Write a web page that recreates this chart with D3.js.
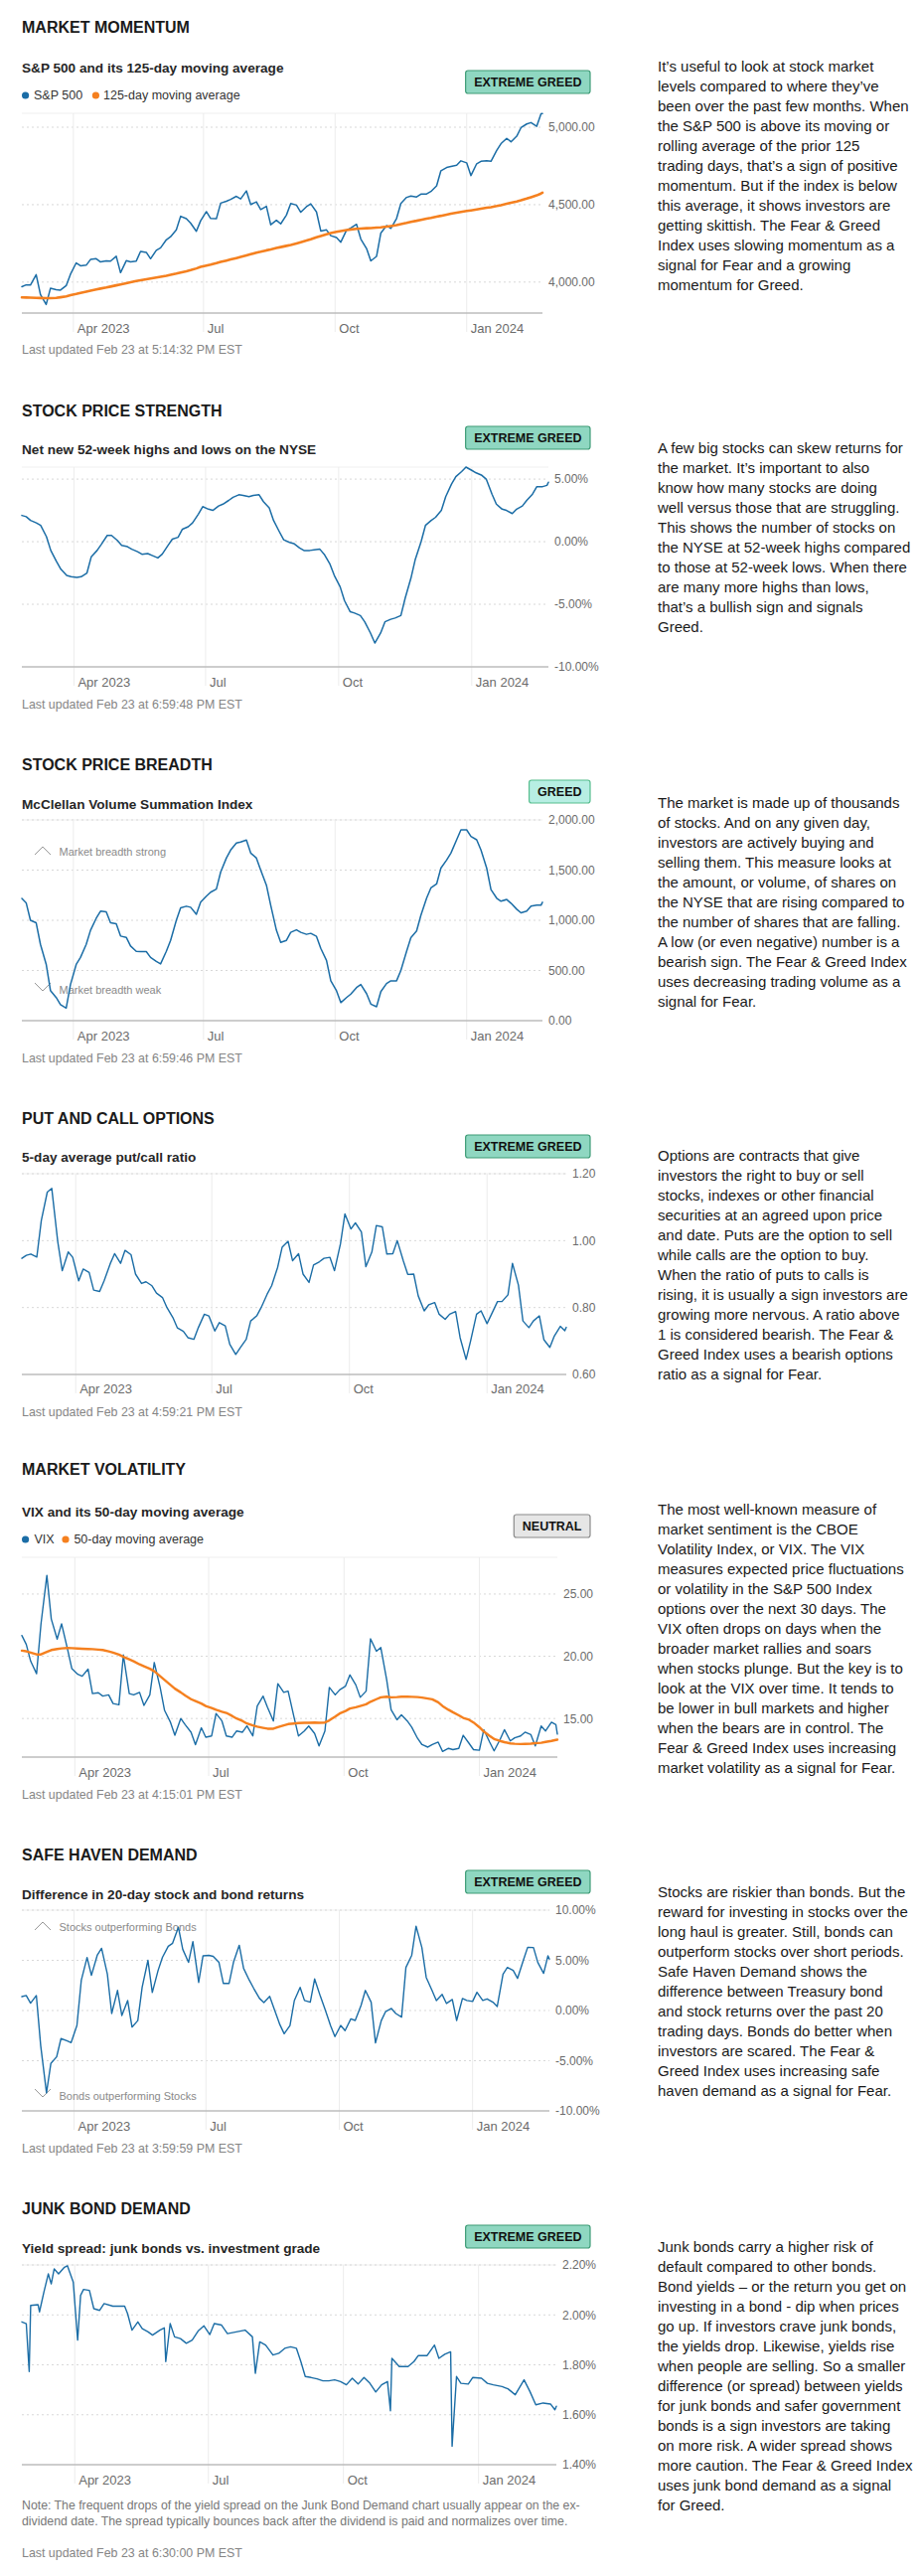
<!DOCTYPE html>
<html><head><meta charset="utf-8">
<script src="https://cdn.jsdelivr.net/npm/d3@7"></script>
<style>body{margin:0;background:#fff}svg{display:block}</style>
</head><body>
<svg id="c" width="925" height="2592"></svg>
<script>
// ---------- DATA ----------
const dates = ["2023-02-24","2023-02-27",
"2023-03-02","2023-03-06","2023-03-09","2023-03-13","2023-03-16","2023-03-20","2023-03-23","2023-03-27","2023-03-30",
"2023-04-03","2023-04-06","2023-04-10","2023-04-13","2023-04-17","2023-04-20","2023-04-24","2023-04-27",
"2023-05-01","2023-05-04","2023-05-08","2023-05-11","2023-05-15","2023-05-18","2023-05-22","2023-05-25","2023-05-29",
"2023-06-01","2023-06-05","2023-06-08","2023-06-12","2023-06-15","2023-06-19","2023-06-22","2023-06-26","2023-06-29",
"2023-07-03","2023-07-06","2023-07-10","2023-07-13","2023-07-17","2023-07-20","2023-07-24","2023-07-27","2023-07-31",
"2023-08-03","2023-08-07","2023-08-10","2023-08-14","2023-08-17","2023-08-21","2023-08-24","2023-08-28","2023-08-31",
"2023-09-04","2023-09-07","2023-09-11","2023-09-14","2023-09-18","2023-09-21","2023-09-25","2023-09-28",
"2023-10-02","2023-10-05","2023-10-09","2023-10-12","2023-10-16","2023-10-19","2023-10-23","2023-10-26","2023-10-30",
"2023-11-02","2023-11-06","2023-11-09","2023-11-13","2023-11-16","2023-11-20","2023-11-23","2023-11-27","2023-11-30",
"2023-12-04","2023-12-07","2023-12-11","2023-12-14","2023-12-18","2023-12-21","2023-12-25","2023-12-28",
"2024-01-01","2024-01-04","2024-01-08","2024-01-11","2024-01-15","2024-01-18","2024-01-22","2024-01-25","2024-01-29",
"2024-02-01","2024-02-05","2024-02-08","2024-02-12","2024-02-15","2024-02-19","2024-02-22","2024-02-23"];

const sp500 = [3970,3982,
3981,4048,3919,3855,3960,3951,3948,3977,4051,
4124,4105,4109,4146,4151,4130,4137,4135,
4167,4061,4138,4130,4136,4198,4192,4151,4205,
4221,4273,4293,4338,4425,4410,4381,4328,4396,
4455,4411,4409,4510,4522,4534,4554,4537,4589,
4501,4518,4468,4489,4370,4399,4376,4433,4508,
4497,4451,4487,4505,4453,4330,4337,4300,
4288,4258,4335,4349,4373,4278,4217,4137,4166,
4317,4365,4347,4411,4508,4547,4556,4550,4568,
4569,4585,4622,4719,4740,4746,4754,4783,
4770,4688,4764,4780,4784,4780,4850,4894,4928,
4906,4942,4997,5021,5030,5006,5087,5089];

const sp500MA = [3901,3900,
3899,3898,3897,3896,3896,3898,3902,3908,3915,
3923,3930,3938,3944,3952,3958,3965,3971,
3979,3985,3993,3999,4007,4012,4018,4023,4029,
4034,4041,4047,4055,4062,4070,4077,4088,4098,
4107,4113,4122,4130,4139,4146,4155,4162,4172,
4180,4190,4196,4205,4211,4220,4226,4234,4240,
4250,4258,4268,4277,4290,4298,4309,4316,
4324,4330,4336,4340,4344,4346,4348,4349,4352,
4354,4358,4362,4368,4374,4382,4389,4396,4402,
4410,4415,4423,4428,4436,4442,4448,4453,
4459,4463,4469,4474,4480,4484,4491,4497,4506,
4513,4521,4528,4539,4548,4560,4572,4577];

const strength = [2.1,2.0,
1.7,1.5,1.3,0.4,-0.7,-1.6,-2.2,-2.7,-2.8,
-2.86,-2.8,-2.5,-1.2,-0.7,-0.2,0.5,0.5,
0.1,-0.3,-0.4,-0.6,-0.8,-1.0,-0.95,-1.1,-1.3,
-1.0,-0.3,0.2,0.35,1.0,1.2,1.5,2.2,2.8,
2.6,2.5,2.85,3.0,3.3,3.55,3.75,3.7,3.6,
3.7,3.75,3.2,2.7,1.7,0.8,0.15,-0.05,-0.15,
-0.5,-0.7,-0.7,-0.65,-0.6,-1.0,-1.8,-2.7,
-3.6,-4.7,-5.6,-5.7,-5.9,-6.4,-7.3,-8.1,-7.3,
-6.4,-6.2,-6.1,-5.9,-4.5,-2.9,-1.4,0.0,1.3,
1.7,1.95,2.5,3.6,4.6,5.2,5.6,5.96,
5.7,5.5,5.3,5.0,3.8,3.0,2.6,2.5,2.25,
2.6,2.85,3.3,3.8,4.4,4.4,4.5,4.75];

const breadth = [1217,1174,
1000,975,760,562,300,231,160,126,360,
560,630,760,900,1020,1091,1085,975,
965,843,830,744,690,688,688,630,590,
565,690,800,1000,1124,1140,1130,1060,1180,
1240,1280,1310,1480,1620,1700,1769,1780,1800,
1670,1620,1500,1350,1150,900,780,800,880,
905,880,860,870,840,720,600,397,
298,180,230,265,330,360,270,165,139,
290,370,397,397,500,690,827,893,1050,
1220,1322,1362,1520,1600,1670,1802,1901,
1901,1835,1802,1700,1520,1306,1220,1190,1207,
1170,1110,1074,1091,1140,1150,1150,1180];

const putCall = [0.947,0.956,
0.96,0.951,1.06,1.145,1.156,0.997,0.91,0.966,0.95,
0.88,0.915,0.905,0.852,0.848,0.88,0.93,0.961,
0.932,0.971,0.958,0.9,0.872,0.877,0.865,0.843,0.83,
0.8,0.77,0.739,0.729,0.71,0.705,0.74,0.78,0.775,
0.73,0.755,0.745,0.69,0.66,0.68,0.705,0.76,0.775,
0.8,0.84,0.865,0.92,0.98,0.998,0.94,0.961,0.9,
0.875,0.927,0.937,0.947,0.95,0.91,0.99,1.08,
1.035,1.053,1.026,0.922,0.966,1.045,1.041,0.96,0.961,
1.0,0.94,0.899,0.9,0.835,0.79,0.808,0.815,0.78,
0.765,0.78,0.788,0.71,0.645,0.70,0.78,0.79,
0.752,0.78,0.818,0.818,0.838,0.932,0.867,0.76,0.74,
0.76,0.775,0.704,0.681,0.715,0.744,0.731,0.741];

const vix = [21.67,20.95,
19.6,18.6,22.6,26.5,22.99,21.38,22.61,20.6,19.0,
18.55,18.4,18.97,17.0,17.07,16.8,16.9,16.2,
16.1,20.1,17.0,16.9,17.1,16.05,16.9,19.5,17.5,
15.65,14.7,13.65,15.0,14.5,13.9,12.9,14.25,13.5,
13.6,15.4,14.8,13.6,13.5,14.0,13.9,14.4,13.6,
16.0,16.8,15.9,14.8,17.8,17.1,17.2,15.1,13.6,
14.0,14.4,13.8,12.8,14.0,17.5,16.9,17.3,
17.6,18.5,17.7,16.7,17.2,21.4,20.4,20.7,18.1,
15.7,14.9,15.3,14.8,14.3,13.4,12.9,12.7,12.9,
13.1,12.35,12.6,12.5,12.6,13.65,13.0,12.5,
12.45,14.1,13.1,12.4,13.3,14.1,13.2,13.45,13.6,
13.9,13.7,12.8,14.4,14.0,14.7,14.5,13.75];

const vixMA = [20.45,20.4,
20.3,20.15,20.15,20.35,20.5,20.58,20.63,20.66,20.65,
20.62,20.6,20.58,20.57,20.53,20.5,20.4,20.3,
20.13,19.95,19.75,19.6,19.35,19.2,19.0,18.8,18.4,
18.1,17.7,17.4,17.1,16.85,16.55,16.4,16.2,16.0,
15.85,15.7,15.55,15.45,15.2,15.0,14.8,14.6,14.45,
14.35,14.25,14.18,14.18,14.3,14.45,14.55,14.6,14.63,
14.65,14.66,14.67,14.65,14.68,14.85,15.15,15.4,
15.6,15.8,15.9,16.0,16.14,16.35,16.55,16.7,16.75,
16.7,16.72,16.75,16.76,16.74,16.72,16.68,16.6,16.54,
16.3,16.0,15.7,15.5,15.25,15.05,14.9,14.68,
14.3,13.95,13.6,13.35,13.2,13.1,13.0,12.97,12.95,
12.96,12.98,13.02,13.05,13.12,13.2,13.28,13.3];

const safeHaven = [1.39,1.5,
0.73,1.49,-3.5,-8.2,-5.28,-4.62,-2.8,-3.0,-3.2,
-1.49,3.0,5.28,3.5,5.5,6.2,3.63,-0.3,
2.0,-0.5,1.0,-1.65,-1.0,2.31,5.0,1.8,4.0,
5.3,6.4,6.7,8.3,6.1,4.8,6.86,2.8,5.45,
5.5,5.4,4.8,2.7,2.7,4.8,6.5,4.2,3.0,
2.2,1.2,0.8,1.4,0.2,-1.4,-2.31,-1.5,0.99,
2.31,1.0,0.83,3.14,1.4,0.2,-1.5,-2.6,
-1.49,-2.0,-0.83,-0.99,0.5,2.0,0.83,-3.23,-1.0,
-0.1,0.2,-0.3,-0.66,4.29,5.5,8.4,6.27,3.3,
2.0,0.99,1.6,0.7,1.1,-0.99,1.2,1.0,
0.9,1.82,1.0,1.16,0.83,0.4,3.63,4.29,4.0,
3.2,5.0,6.3,6.27,4.79,3.7,5.45,5.12];

const junkDates = ["2023-02-24","2023-02-27","2023-03-01","2023-03-02","2023-03-07","2023-03-08","2023-03-11","2023-03-14","2023-03-16","2023-03-18","2023-03-21","2023-03-25","2023-03-27","2023-03-31",
"2023-04-03","2023-04-05","2023-04-07","2023-04-11","2023-04-14","2023-04-18","2023-04-21","2023-04-27",
"2023-05-05","2023-05-07","2023-05-10","2023-05-14","2023-05-17","2023-05-21","2023-05-24","2023-05-29",
"2023-06-01","2023-06-02","2023-06-05","2023-06-08","2023-06-12","2023-06-16","2023-06-20","2023-06-24","2023-06-28",
"2023-07-02","2023-07-05","2023-07-10","2023-07-14","2023-07-20","2023-07-26","2023-07-31",
"2023-08-02","2023-08-05","2023-08-09","2023-08-14","2023-08-18","2023-08-22","2023-08-26","2023-08-30",
"2023-09-02","2023-09-05","2023-09-09","2023-09-13","2023-09-17","2023-09-21","2023-09-25","2023-09-29",
"2023-10-03","2023-10-07","2023-10-11","2023-10-15","2023-10-19","2023-10-23","2023-10-27","2023-10-31",
"2023-11-02","2023-11-03","2023-11-08","2023-11-14","2023-11-18","2023-11-21","2023-11-27",
"2023-12-02","2023-12-05","2023-12-09","2023-12-13","2023-12-14","2023-12-17","2023-12-20","2023-12-25","2023-12-28",
"2024-01-03","2024-01-07","2024-01-11","2024-01-17","2024-01-21","2024-01-26",
"2024-02-01","2024-02-05","2024-02-09","2024-02-14","2024-02-19","2024-02-22","2024-02-23"];

const junkSpread = [1.972,1.965,1.773,2.038,2.041,2.012,2.091,2.164,2.124,2.184,2.164,2.191,2.197,2.131,
1.899,2.078,2.102,2.098,2.025,2.018,2.045,2.035,
2.035,2.005,1.939,1.972,1.945,1.932,1.919,1.939,
1.948,1.813,1.965,1.912,1.905,1.886,1.899,1.935,1.956,
1.921,1.965,1.959,1.925,1.932,1.939,1.912,
1.766,1.892,1.879,1.839,1.846,1.866,1.872,1.866,
1.813,1.753,1.749,1.744,1.736,1.736,1.740,1.733,
1.720,1.746,1.723,1.749,1.726,1.691,1.720,1.733,
1.616,1.826,1.793,1.793,1.813,1.837,1.837,
1.879,1.826,1.842,1.852,1.474,1.753,1.726,1.723,1.749,
1.746,1.726,1.720,1.713,1.704,1.680,
1.740,1.693,1.640,1.647,1.643,1.620,1.634];

const xTickDates = ["2023-04-01","2023-07-01","2023-10-01","2024-01-01"];
const xTickLabels = ["Apr 2023","Jul","Oct","Jan 2024"];

const momentumTicks = [4000,4500,5000];
const strengthTicks = [-10,-5,0,5];
const breadthTicks = [0,500,1000,1500,2000];
const putCallTicks = [0.6,0.8,1.0,1.2];
const vixTicks = [15,20,25];
const safeHavenTicks = [-10,-5,0,5,10];
const junkTicks = [1.4,1.6,1.8,2.0,2.2];

const momentumText = ["It’s useful to look at stock market","levels compared to where they’ve","been over the past few months. When","the S&P 500 is above its moving or","rolling average of the prior 125","trading days, that’s a sign of positive","momentum. But if the index is below","this average, it shows investors are","getting skittish. The Fear & Greed","Index uses slowing momentum as a","signal for Fear and a growing","momentum for Greed."];
const strengthText = ["A few big stocks can skew returns for","the market. It’s important to also","know how many stocks are doing","well versus those that are struggling.","This shows the number of stocks on","the NYSE at 52-week highs compared","to those at 52-week lows. When there","are many more highs than lows,","that’s a bullish sign and signals","Greed."];
const breadthText = ["The market is made up of thousands","of stocks. And on any given day,","investors are actively buying and","selling them. This measure looks at","the amount, or volume, of shares on","the NYSE that are rising compared to","the number of shares that are falling.","A low (or even negative) number is a","bearish sign. The Fear & Greed Index","uses decreasing trading volume as a","signal for Fear."];
const putCallText = ["Options are contracts that give","investors the right to buy or sell","stocks, indexes or other financial","securities at an agreed upon price","and date. Puts are the option to sell","while calls are the option to buy.","When the ratio of puts to calls is","rising, it is usually a sign investors are","growing more nervous. A ratio above","1 is considered bearish. The Fear &","Greed Index uses a bearish options","ratio as a signal for Fear."];
const vixText = ["The most well-known measure of","market sentiment is the CBOE","Volatility Index, or VIX. The VIX","measures expected price fluctuations","or volatility in the S&P 500 Index","options over the next 30 days. The","VIX often drops on days when the","broader market rallies and soars","when stocks plunge. But the key is to","look at the VIX over time. It tends to","be lower in bull markets and higher","when the bears are in control. The","Fear & Greed Index uses increasing","market volatility as a signal for Fear."];
const safeHavenText = ["Stocks are riskier than bonds. But the","reward for investing in stocks over the","long haul is greater. Still, bonds can","outperform stocks over short periods.","Safe Haven Demand shows the","difference between Treasury bond","and stock returns over the past 20","trading days. Bonds do better when","investors are scared. The Fear &","Greed Index uses increasing safe","haven demand as a signal for Fear."];
const junkText = ["Junk bonds carry a higher risk of","default compared to other bonds.","Bond yields – or the return you get on","investing in a bond - dip when prices","go up. If investors crave junk bonds,","the yields drop. Likewise, yields rise","when people are selling. So a smaller","difference (or spread) between yields","for junk bonds and safer government","bonds is a sign investors are taking","on more risk. A wider spread shows","more caution. The Fear & Greed Index","uses junk bond demand as a signal","for Greed."];
const junkNote = ["Note: The frequent drops of the yield spread on the Junk Bond Demand chart usually appear on the ex-","dividend date. The spread typically bounces back after the dividend is paid and normalizes over time."];

// ---------- STYLE / LAYOUT ----------
const FONT = "'Liberation Sans', Arial, Helvetica, sans-serif";
const BLUE = "#1b6da6", ORANGE = "#f5801f";
const badgeStyles = {
  xg: {fill:"#8fd7c1", stroke:"#3f9c77"},
  g:  {fill:"#b7eee3", stroke:"#57bd8e"},
  n:  {fill:"#e6e6e6", stroke:"#8a8a8a"}
};
const parse = d3.timeParse("%Y-%m-%d");
const xDomain = [parse("2023-02-24"), parse("2024-02-23")];
const fmtComma = d3.format(",.2f");
const fmtFix = d => d.toFixed(2);
const fmtPct = d => d.toFixed(2) + "%";

const panels = [
  {title:"MARKET MOMENTUM", subtitle:"S&P 500 and its 125-day moving average", badge:"EXTREME GREED", bs:"xg",
   T:27, sub:68, badgeY:71, legend:{y:96, items:[["S&P 500",BLUE,25.6,34],["125-day moving average",ORANGE,96.4,104]]},
   top:114, bottom:315, right:546, xl:330, last:352, text0:67, updated:"Last updated Feb 23 at 5:14:32 PM EST",
   yDomain:[3800,5090], ticks:momentumTicks, fmt:fmtComma,
   series:[{x:dates,y:sp500,c:BLUE,w:1.5},{x:dates,y:sp500MA,c:ORANGE,w:2.6}], desc:momentumText},
  {title:"STOCK PRICE STRENGTH", subtitle:"Net new 52-week highs and lows on the NYSE", badge:"EXTREME GREED", bs:"xg",
   T:413, sub:452, badgeY:429, top:470, bottom:671, right:552, xl:686, last:709, text0:451,
   updated:"Last updated Feb 23 at 6:59:48 PM EST", yDomain:[-10,5.96], ticks:strengthTicks, fmt:fmtPct,
   series:[{x:dates,y:strength,c:BLUE,w:1.5}], desc:strengthText},
  {title:"STOCK PRICE BREADTH", subtitle:"McClellan Volume Summation Index", badge:"GREED", bs:"g",
   T:769, sub:809, badgeY:785, top:825, bottom:1027, right:546, xl:1042, last:1065, text0:808,
   updated:"Last updated Feb 23 at 6:59:46 PM EST", yDomain:[0,2000], ticks:breadthTicks, fmt:fmtComma,
   anno:{up:"Market breadth strong", upY:857, down:"Market breadth weak", downY:996},
   series:[{x:dates,y:breadth,c:BLUE,w:1.5}], desc:breadthText},
  {title:"PUT AND CALL OPTIONS", subtitle:"5-day average put/call ratio", badge:"EXTREME GREED", bs:"xg",
   T:1125, sub:1164, badgeY:1142, top:1181, bottom:1383, right:570, xl:1397, last:1421, text0:1163,
   updated:"Last updated Feb 23 at 4:59:21 PM EST", yDomain:[0.6,1.2], ticks:putCallTicks, fmt:fmtFix,
   series:[{x:dates,y:putCall,c:BLUE,w:1.4}], desc:putCallText},
  {title:"MARKET VOLATILITY", subtitle:"VIX and its 50-day moving average", badge:"NEUTRAL", bs:"n",
   T:1478, sub:1521, badgeY:1524, legend:{y:1549, items:[["VIX",BLUE,25.6,34.5],["50-day moving average",ORANGE,66,74.4]]},
   top:1567, bottom:1768, right:561, xl:1783, last:1806, text0:1519,
   updated:"Last updated Feb 23 at 4:15:01 PM EST", yDomain:[11.9,27.95], ticks:vixTicks, fmt:fmtFix,
   series:[{x:dates,y:vix,c:BLUE,w:1.4},{x:dates,y:vixMA,c:ORANGE,w:2.4}], desc:vixText},
  {title:"SAFE HAVEN DEMAND", subtitle:"Difference in 20-day stock and bond returns", badge:"EXTREME GREED", bs:"xg",
   T:1866, sub:1906, badgeY:1882, top:1922, bottom:2124, right:553, xl:2139, last:2162, text0:1904,
   updated:"Last updated Feb 23 at 3:59:59 PM EST", yDomain:[-10,10], ticks:safeHavenTicks, fmt:fmtPct,
   anno:{up:"Stocks outperforming Bonds", upY:1939, down:"Bonds outperforming Stocks", downY:2109},
   series:[{x:dates,y:safeHaven,c:BLUE,w:1.4}], desc:safeHavenText},
  {title:"JUNK BOND DEMAND", subtitle:"Yield spread: junk bonds vs. investment grade", badge:"EXTREME GREED", bs:"xg",
   T:2222, sub:2262, badgeY:2239, top:2279, bottom:2480, right:560, xl:2495, last:2569, text0:2261,
   note:{lines:junkNote, y:2521},
   updated:"Last updated Feb 23 at 6:30:00 PM EST", yDomain:[1.4,2.2], ticks:junkTicks, fmt:fmtPct,
   series:[{x:junkDates,y:junkSpread,c:BLUE,w:1.4}], desc:junkText}
];

// ---------- DRAW ----------
const svg = d3.select("#c").style("font-family", FONT);
svg.append("rect").attr("width",925).attr("height",2592).attr("fill","#fff");

function drawPanel(p){
  const g = svg.append("g");
  const L = 22;
  g.append("text").attr("x",L).attr("y",p.T).attr("dy","0.35em")
    .attr("font-size",16).attr("font-weight","bold").attr("fill","#1a1a1a").text(p.title);
  g.append("text").attr("x",L).attr("y",p.sub).attr("dy","0.35em")
    .attr("font-size",13.6).attr("font-weight","bold").attr("fill","#262626").text(p.subtitle);

  // badge
  const bs = badgeStyles[p.bs];
  const bt = g.append("text").attr("y",p.badgeY+11.5).attr("dy","0.36em")
    .attr("font-size",12.5).attr("font-weight","bold").attr("fill","#111").attr("text-anchor","middle").text(p.badge);
  const bw = bt.node().getComputedTextLength() + 17;
  g.insert("rect","text:last-child").attr("x",594-bw).attr("y",p.badgeY).attr("width",bw).attr("height",23)
    .attr("rx",2.5).attr("fill",bs.fill).attr("stroke",bs.stroke).attr("stroke-width",1.2);
  bt.attr("x",594-bw/2).raise();

  if (p.legend){
    p.legend.items.forEach(([lab,col,cx,tx])=>{
      g.append("circle").attr("cx",cx).attr("cy",p.legend.y).attr("r",3.6).attr("fill",col);
      g.append("text").attr("x",tx).attr("y",p.legend.y).attr("dy","0.35em").attr("font-size",12.5)
        .attr("fill","#333").text(lab);
    });
  }

  const x = d3.scaleTime().domain(xDomain).range([L,p.right]);
  const y = d3.scaleLinear().domain(p.yDomain).range([p.bottom,p.top]);

  // top line
  g.append("line").attr("x1",L).attr("x2",p.right).attr("y1",p.top).attr("y2",p.top)
    .attr("stroke","#efefef").attr("stroke-width",1);
  // horizontal dotted grid
  g.selectAll(null).data(p.ticks.filter(t=>Math.abs(y(t)-p.bottom)>1)).join("line")
    .attr("x1",L).attr("x2",p.right).attr("y1",d=>y(d)).attr("y2",d=>y(d))
    .attr("stroke","#d8d8d8").attr("stroke-dasharray","2,3").attr("stroke-width",1);
  // vertical grid
  const xt = xTickDates.map(parse);
  g.selectAll(null).data(xt).join("line")
    .attr("x1",d=>x(d)).attr("x2",d=>x(d)).attr("y1",p.top).attr("y2",p.bottom+19)
    .attr("stroke","#ececec").attr("stroke-width",1);
  // bottom axis line
  g.append("line").attr("x1",L).attr("x2",p.right).attr("y1",p.bottom).attr("y2",p.bottom)
    .attr("stroke","#bdbdbd").attr("stroke-width",1.6);

  // y axis labels
  const ya = g.append("g").attr("transform",`translate(${p.right},0)`)
    .call(d3.axisRight(y).tickValues(p.ticks).tickFormat(p.fmt).tickSize(0).tickPadding(6));
  ya.select(".domain").remove();
  ya.selectAll("text").attr("font-size",12).attr("fill","#6b6b6b").attr("font-family",FONT);

  // x axis labels
  const xa = g.append("g").attr("transform",`translate(0,${p.xl})`)
    .call(d3.axisBottom(x).tickValues(xt).tickFormat((d,i)=>xTickLabels[i]).tickSize(0));
  xa.select(".domain").remove();
  xa.selectAll("text").attr("font-size",13).attr("fill","#6b6b6b").attr("font-family",FONT)
    .attr("text-anchor","start").attr("x",3.5).attr("y",0).attr("dy","0.35em");

  // annotations
  if (p.anno){
    const a = p.anno;
    g.append("polyline").attr("points",`35,${a.upY+3} 43,${a.upY-5} 51,${a.upY+3}`)
      .attr("fill","none").attr("stroke","#999").attr("stroke-width",1);
    g.append("text").attr("x",59.5).attr("y",a.upY).attr("dy","0.35em").attr("font-size",11)
      .attr("fill","#8a8a8a").text(a.up);
    g.append("polyline").attr("points",`35,${a.downY-7} 43,${a.downY+1} 51,${a.downY-7}`)
      .attr("fill","none").attr("stroke","#999").attr("stroke-width",1);
    g.append("text").attr("x",59.5).attr("y",a.downY).attr("dy","0.35em").attr("font-size",11)
      .attr("fill","#8a8a8a").text(a.down);
  }

  // series
  p.series.forEach(s=>{
    const pts = s.x.map((d,i)=>[parse(d), s.y[i]]);
    const line = d3.line().x(d=>x(d[0])).y(d=>y(d[1]));
    g.append("path").attr("d",line(pts)).attr("fill","none").attr("stroke",s.c)
      .attr("stroke-width",s.w).attr("stroke-linejoin","round").attr("stroke-linecap","round");
  });

  if (p.note){
    p.note.lines.forEach((t,i)=>{
      g.append("text").attr("x",L).attr("y",p.note.y+i*16).attr("dy","0.35em").attr("font-size",12.3)
        .attr("fill","#777").text(t);
    });
  }

  g.append("text").attr("x",L).attr("y",p.last).attr("dy","0.35em").attr("font-size",12.4)
    .attr("fill","#858585").text(p.updated);

  // description
  g.selectAll(null).data(p.desc).join("text")
    .attr("x",662).attr("y",(d,i)=>p.text0+i*20).attr("dy","0.35em")
    .attr("font-size",15).attr("fill","#1a1a1a").text(d=>d);
}
panels.forEach(drawPanel);
</script>
</body></html>
